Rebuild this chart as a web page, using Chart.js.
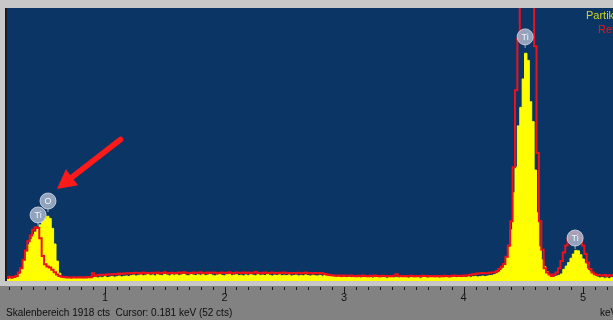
<!DOCTYPE html>
<html>
<head>
<meta charset="utf-8">
<script src="https://cdn.jsdelivr.net/npm/chart.js@4"></script>
<style>
  html, body { margin: 0; padding: 0; background: #828282; }
</style>
</head>
<body>
<canvas id="spectrum" width="613" height="320"></canvas>
<script>
// channel grid of the spectrum (keV)
const startKeV = 0.18;
const channelKeV = 0.02;

// counts per channel, one row = 0.2 keV
const partikel = [
  18, 25, 14, 22, 30, 45, 85, 150, 205, 255,
  290, 325, 345, 375, 395, 418, 440, 455, 440, 370,
  260, 140, 55, 26, 20, 16, 18, 15, 21, 17,
  19, 22, 16, 20, 24, 18, 22, 26, 21, 27,
  25, 30, 24, 28, 32, 27, 30, 35, 29, 33,
  36, 31, 38, 42, 35, 40, 44, 37, 41, 46,
  39, 43, 36, 45, 40, 38, 47, 42, 36, 44,
  41, 46, 38, 43, 49, 40, 37, 45, 42, 39,
  44, 40, 47, 38, 42, 46, 41, 36, 43, 45,
  40, 37, 44, 48, 39, 42, 45, 38, 41, 36,
  43, 39, 46, 41, 37, 44, 40, 42, 38, 45,
  40, 36, 42, 39, 44, 37, 41, 38, 43, 35,
  39, 42, 36, 40, 37, 43, 38, 35, 41, 37,
  36, 40, 34, 38, 35, 31, 34, 30, 28, 32,
  27, 30, 25, 29, 24, 28, 31, 26, 22, 27,
  29, 24, 27, 21, 26, 30, 23, 27, 25, 20,
  26, 29, 23, 27, 22, 25, 28, 24, 21, 26,
  23, 27, 25, 20, 26, 29, 22, 25, 28, 23,
  26, 21, 27, 24, 29, 22, 26, 30, 25, 28,
  24, 29, 27, 31, 26, 30, 33, 28, 32, 35,
  32, 35, 38, 40, 45, 52, 65, 85, 115, 165,
  235, 360, 620, 800, 1090, 1220, 1420, 1600, 1550, 1260,
  1120, 780, 480, 240, 150, 100, 65, 45, 32, 28,
  35, 40, 50, 82, 105, 130, 160, 190, 215, 212,
  185, 155, 125, 85, 65, 52, 38, 28, 22, 25,
  20, 22, 18, 24, 20
];

const ref = [
  22, 30, 25, 28, 35, 60, 90, 150, 215, 280,
  320, 360, 378, 372, 300, 175, 118, 102, 95, 80,
  62, 45, 35, 30, 28, 26, 25, 24, 27, 25,
  26, 24, 27, 25, 28, 26, 55, 35, 40, 42,
  44, 42, 46, 48, 45, 50, 47, 52, 49, 53,
  55, 52, 57, 54, 58, 56, 53, 59, 55, 57,
  54, 58, 56, 60, 55, 57, 62, 56, 54, 58,
  57, 55, 59, 56, 61, 58, 54, 57, 60, 56,
  58, 62, 55, 57, 59, 56, 60, 58, 54, 57,
  59, 56, 58, 61, 57, 55, 60, 58, 56, 59,
  57, 60, 55, 58, 63, 56, 58, 55, 59, 57,
  56, 59, 57, 54, 58, 56, 60, 55, 57, 54,
  57, 55, 58, 54, 56, 59, 55, 57, 53, 56,
  55, 57, 54, 50, 46, 42, 40, 38, 37, 39,
  36, 38, 35, 37, 39, 36, 34, 37, 35, 38,
  36, 34, 37, 35, 38, 36, 34, 37, 35, 33,
  36, 34, 37, 48, 36, 35, 33, 36, 34, 37,
  35, 33, 36, 34, 37, 35, 33, 36, 34, 35,
  33, 36, 34, 37, 35, 33, 36, 38, 35, 37,
  36, 39, 37, 41, 44, 47, 50, 53, 55, 56,
  55, 55, 58, 60, 62, 70, 85, 100, 120, 170,
  250, 420, 800, 1340, 1700, 2300, 2800, 3000, 2800, 2400,
  2000, 1650, 900, 420, 220, 90, 60, 45, 35, 45,
  60, 90, 140, 200, 250, 300, 330, 345, 345, 335,
  300, 250, 190, 130, 85, 60, 48, 42, 40, 38,
  42, 36, 40, 38, 41
];

// element markers (keV, cts)
const markerKeV = [0.44, 0.523, 4.515, 4.933];
const markerCts = [464, 562, 1715, 302];
const markerText = ['Ti', 'O', 'Ti', 'Ti'];

// red arrow (keV, cts): tail -> tip
const arrowKeV = [1.13, 0.598];
const arrowCts = [994, 647];

const xMin = 0.18, xMax = 5.25;
const yMax = 1918;
const statusText = 'Skalenbereich 1918 cts  Cursor: 0.181 keV (52 cts)';

const energy = partikel.map((_, i) => +(startKeV + i * channelKeV).toFixed(2));
const toPoints = (arr) => arr.map((v, i) => ({ x: energy[i], y: v }));
const isWhole = (v) => Math.abs(v - Math.round(v)) < 1e-6;

const backdrop = {
  id: 'backdrop',
  beforeDraw(chart) {
    const { ctx, chartArea: a, width } = chart;
    const y0 = chart.scales.y.getPixelForValue(0);
    ctx.save();
    ctx.fillStyle = '#828282';
    ctx.fillRect(0, 0, width, chart.height);
    ctx.fillStyle = '#c8c8c8';
    ctx.fillRect(0, 0, width, a.top);
    ctx.fillRect(0, 0, a.left, a.bottom);
    ctx.fillRect(0, y0, width, a.bottom - y0);
    ctx.fillStyle = '#0b3565';
    ctx.fillRect(a.left, a.top, width - a.left, y0 - a.top);
    ctx.fillStyle = '#1c1c1c';
    ctx.fillRect(a.left - 2, a.top, 2, y0 - a.top);
    ctx.restore();
  }
};

const overlay = {
  id: 'overlay',
  afterDraw(chart) {
    const { ctx, chartArea: a } = chart;
    const xs = chart.scales.x, ys = chart.scales.y;
    ctx.save();

    // axis ticks
    ctx.strokeStyle = '#1a1a1a';
    ctx.lineWidth = 1;
    xs.ticks.forEach((t) => {
      const px = Math.round(xs.getPixelForValue(t.value)) + 0.5;
      ctx.beginPath();
      ctx.moveTo(px, a.bottom + 1);
      ctx.lineTo(px, a.bottom + (isWhole(t.value) ? 8 : 4));
      ctx.stroke();
    });

    // element markers
    markerKeV.forEach((k, i) => {
      const px = xs.getPixelForValue(k);
      const py = ys.getPixelForValue(markerCts[i]);
      ctx.strokeStyle = '#9fb0c8';
      ctx.lineWidth = 1;
      ctx.beginPath();
      ctx.moveTo(px, py + 7);
      ctx.lineTo(px, py + 11);
      ctx.stroke();
      ctx.beginPath();
      ctx.arc(px, py, 8, 0, Math.PI * 2);
      ctx.fillStyle = 'rgba(170, 182, 204, 0.85)';
      ctx.fill();
      ctx.strokeStyle = 'rgba(205, 214, 230, 0.85)';
      ctx.stroke();
      ctx.fillStyle = '#f4f6fa';
      ctx.font = '9px "Liberation Sans", Arial, sans-serif';
      ctx.textAlign = 'center';
      ctx.textBaseline = 'middle';
      ctx.fillText(markerText[i], px, py + 0.5);
    });

    // red arrow
    const x1 = xs.getPixelForValue(arrowKeV[0]), y1 = ys.getPixelForValue(arrowCts[0]);
    const x2 = xs.getPixelForValue(arrowKeV[1]), y2 = ys.getPixelForValue(arrowCts[1]);
    const ang = Math.atan2(y2 - y1, x2 - x1);
    const headLen = 19, headW = 10;
    const bx = x2 - headLen * Math.cos(ang), by = y2 - headLen * Math.sin(ang);
    ctx.strokeStyle = '#ff1a1a';
    ctx.lineWidth = 5.5;
    ctx.lineCap = 'round';
    ctx.beginPath();
    ctx.moveTo(x1, y1);
    ctx.lineTo(bx, by);
    ctx.stroke();
    ctx.fillStyle = '#ff1a1a';
    ctx.beginPath();
    ctx.moveTo(x2, y2);
    ctx.lineTo(bx + headW * Math.sin(ang), by - headW * Math.cos(ang));
    ctx.lineTo(bx - headW * Math.sin(ang), by + headW * Math.cos(ang));
    ctx.closePath();
    ctx.fill();

    // legend
    ctx.font = '11px "Liberation Sans", Arial, sans-serif';
    ctx.textAlign = 'left';
    ctx.textBaseline = 'middle';
    ctx.fillStyle = '#cfd62a';
    ctx.fillText('Partikel', 586, 16);
    ctx.fillStyle = '#e01a1a';
    ctx.fillText('Ref', 598, 30);

    // status line
    ctx.fillStyle = '#0e0e0e';
    ctx.font = '10px "Liberation Sans", Arial, sans-serif';
    ctx.fillText(statusText, 6, 313);
    ctx.fillText('keV', 600, 313);
    ctx.restore();
  }
};

new Chart(document.getElementById('spectrum'), {
  type: 'line',
  data: {
    datasets: [
      {
        label: 'Ref',
        data: toPoints(ref),
        borderColor: '#f01018',
        borderWidth: 2,
        stepped: 'middle',
        pointRadius: 0,
        fill: false,
        order: 0
      },
      {
        label: 'Partikel',
        data: toPoints(partikel),
        borderColor: '#ffff00',
        backgroundColor: '#ffff00',
        borderWidth: 1,
        stepped: 'middle',
        pointRadius: 0,
        fill: 'origin',
        order: 1
      }
    ]
  },
  options: {
    responsive: false,
    animation: false,
    layout: { padding: { left: 7, top: 8, right: 0, bottom: 0 } },
    plugins: { legend: { display: false }, tooltip: { enabled: false } },
    scales: {
      x: {
        type: 'linear',
        min: xMin,
        max: xMax,
        afterFit: (scale) => { scale.height = 34; },
        grid: { display: false, drawTicks: false },
        border: { display: false },
        ticks: {
          stepSize: 0.1,
          includeBounds: false,
          autoSkip: false,
          maxRotation: 0,
          padding: 5,
          color: '#141414',
          font: { family: '"Liberation Sans", Arial, sans-serif', size: 11 },
          callback: (v) => isWhole(v) ? String(Math.round(v)) : ''
        }
      },
      y: {
        display: false,
        min: -35,
        max: yMax
      }
    }
  },
  plugins: [backdrop, overlay]
});
</script>
</body>
</html>
